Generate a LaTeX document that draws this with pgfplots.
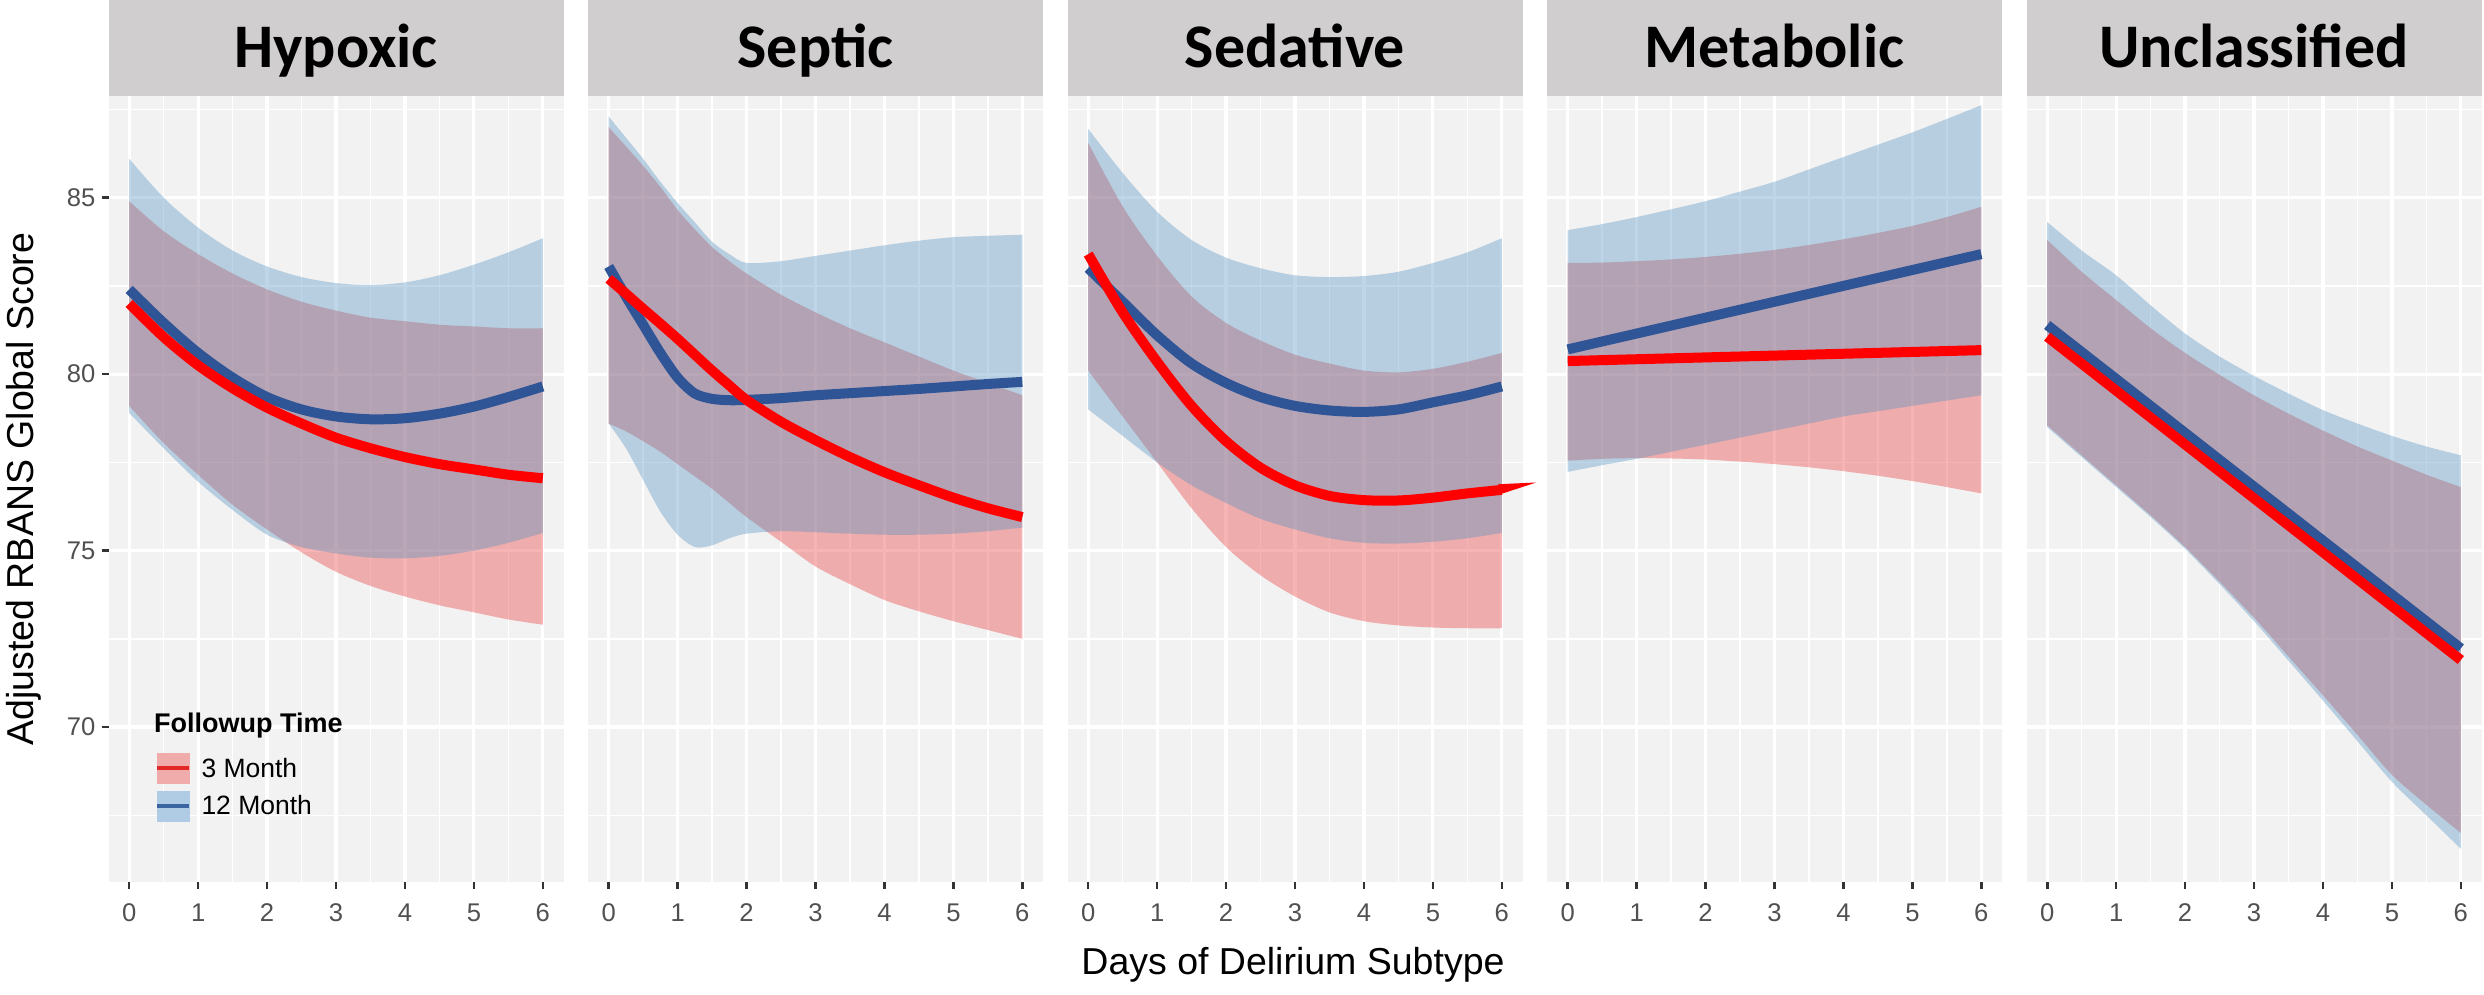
\documentclass[border=0pt]{standalone}
\usepackage{fontspec}
\setmainfont{Liberation Sans}
\newfontfamily\stripfamily{Carlito}
\usepackage{pgfplots}
\usepackage{pgfplotstable}
\usepgfplotslibrary{fillbetween}
\pgfplotsset{compat=1.18}

\definecolor{panelbg}{RGB}{242,242,242}
\definecolor{stripbg}{RGB}{208,206,207}
\definecolor{ribred}{RGB}{233,42,42}
\definecolor{ribblue}{RGB}{80,145,193}
\definecolor{linered}{RGB}{255,0,0}
\definecolor{lineblue}{RGB}{47,85,151}
\definecolor{tickcol}{RGB}{51,51,51}
\definecolor{ticklab}{RGB}{80,80,80}
\definecolor{keypink}{RGB}{240,171,171}
\definecolor{keyblue}{RGB}{176,204,228}
\definecolor{keyred}{RGB}{228,40,40}
\definecolor{keyline}{RGB}{60,100,160}

\newcommand\tickfont{\fontsize{25.6}{30}\selectfont}
\newcommand\labfont{\fontsize{37.5}{45}\selectfont}
\newcommand\stripfont{\stripfamily\bfseries\fontsize{62}{70}\selectfont}
\newcommand\legtitlefont{\bfseries\fontsize{27}{32}\selectfont}
\newcommand\legfont{\fontsize{26.5}{31}\selectfont}

% Hypoxic
\pgfplotstableread{
x   rm    bm    ru    bu    rl    bl
0   82.00 82.40 84.90 86.10 79.10 78.90
0.5 81.05 81.45 84.05 85.00 78.05 77.90
1   80.25 80.60 83.40 84.15 77.15 76.95
1.5 79.60 79.90 82.85 83.50 76.30 76.15
2   79.05 79.35 82.40 83.05 75.60 75.45
2.5 78.60 79.00 82.05 82.75 74.95 75.10
3   78.20 78.80 81.80 82.58 74.40 74.92
3.5 77.90 78.72 81.60 82.52 74.00 74.80
4   77.65 78.75 81.50 82.60 73.70 74.78
4.5 77.45 78.88 81.40 82.80 73.45 74.85
5   77.30 79.08 81.35 83.10 73.25 75.00
5.5 77.15 79.35 81.30 83.45 73.05 75.22
6   77.05 79.65 81.30 83.85 72.90 75.50
}\tabhyp

% Septic
\pgfplotstableread{
x    rm    bm    ru    bu    rl    bl
0    82.70 83.05 87.00 87.30 78.60 78.60
0.25 82.28 82.20 86.45 86.70 78.38 77.90
0.5  81.85 81.40 85.90 86.10 78.10 77.00
0.75 81.43 80.60 85.30 85.45 77.80 76.10
1    81.00 79.90 84.65 84.85 77.45 75.45
1.25 80.55 79.45 84.10 84.30 77.10 75.10
1.5  80.10 79.30 83.60 83.75 76.75 75.15
1.75 79.68 79.26 83.20 83.40 76.35 75.35
2    79.27 79.27 82.85 83.15 75.95 75.48
2.5  78.65 79.32 82.25 83.20 75.25 75.55
3    78.13 79.40 81.75 83.35 74.55 75.52
3.5  77.65 79.46 81.30 83.50 74.05 75.48
4    77.22 79.52 80.90 83.65 73.60 75.45
4.5  76.85 79.58 80.50 83.78 73.28 75.45
5    76.50 79.65 80.10 83.88 73.00 75.48
5.5  76.20 79.72 79.75 83.92 72.75 75.55
6    75.95 79.78 79.40 83.95 72.50 75.65
}\tabsep

% Sedative
\pgfplotstableread{
x   rm    bm    ru    bu    rl    bl
0   83.40 83.00 86.55 86.95 80.10 79.00
0.5 81.75 82.05 84.75 85.70 78.80 78.25
1   80.35 81.10 83.35 84.60 77.50 77.50
1.5 79.10 80.30 82.20 83.80 76.20 76.85
2   78.10 79.75 81.45 83.30 75.10 76.35
2.5 77.35 79.35 80.95 83.00 74.30 75.90
3   76.85 79.10 80.55 82.80 73.70 75.60
3.5 76.55 78.97 80.30 82.75 73.25 75.35
4   76.43 78.93 80.10 82.78 73.00 75.22
4.5 76.42 79.00 80.05 82.90 72.88 75.20
5   76.50 79.20 80.15 83.15 72.82 75.25
5.5 76.62 79.40 80.35 83.45 72.80 75.35
6   76.72 79.65 80.60 83.85 72.80 75.50
}\tabsed

% Metabolic (bands)
\pgfplotstableread{
x   ru    bu    rl    bl
0   83.15 84.08 77.55 77.23
0.5 83.16 84.25 77.60 77.42
1   83.20 84.45 77.62 77.60
1.5 83.25 84.67 77.61 77.80
2   83.32 84.90 77.58 78.00
2.5 83.41 85.17 77.52 78.20
3   83.52 85.45 77.45 78.40
3.5 83.66 85.80 77.36 78.60
4   83.82 86.15 77.25 78.80
4.5 84.00 86.50 77.12 78.95
5   84.20 86.85 76.97 79.10
5.5 84.45 87.23 76.80 79.25
6   84.74 87.62 76.62 79.40
}\tabmet

% Unclassified (bands)
\pgfplotstableread{
x   ru    bu    rl    bl
0   83.80 84.31 78.55 78.50
0.5 82.90 83.50 77.70 77.65
1   82.10 82.80 76.85 76.80
1.5 81.30 81.95 76.00 75.95
2   80.60 81.15 75.10 75.05
2.5 79.98 80.50 74.12 74.05
3   79.40 79.95 73.10 73.00
3.5 78.88 79.45 72.00 71.88
4   78.40 78.98 70.90 70.75
4.5 77.95 78.60 69.78 69.60
5   77.55 78.25 68.65 68.45
5.5 77.15 77.95 67.80 67.50
6   76.80 77.70 67.00 66.55
}\tabunc

\pgfplotsset{
  panel/.style={
    scale only axis, width=455pt, height=786pt,
    anchor=north west,
    xmin=-0.3, xmax=6.3, ymin=65.61, ymax=87.88,
    xtick={0,1,2,3,4,5,6},
    minor xtick={0.5,1.5,2.5,3.5,4.5,5.5},
    ytick={70,75,80,85},
    minor ytick={67.5,72.5,77.5,82.5,87.5},
    grid=both,
    major grid style={white, line width=3.2pt},
    minor grid style={white, line width=1.6pt},
    axis background/.style={fill=panelbg},
    axis line style={draw=none},
    tick align=outside,
    major tick length=7pt,
    minor tick length=0pt,
    every tick/.style={color=tickcol, line width=2.6pt},
    minor tick style={draw=none},
    xtick pos=bottom, ytick pos=left,
    tick label style={font=\tickfont, text=ticklab},
    xticklabel style={anchor=base, inner sep=0pt, yshift=-32pt},
    /pgf/number format/assume math mode=true,
    clip=false,
  },
  noy/.style={yticklabels={}, ytick style={draw=none}},
}

\newcommand\bands[2]{%
  \addplot[draw=none, smooth, name path=#2ru, forget plot] table[x=x,y=ru]{#1};
  \addplot[draw=none, smooth, name path=#2rl, forget plot] table[x=x,y=rl]{#1};
  \addplot[fill=ribred, fill opacity=0.35, draw=none, forget plot] fill between[of=#2ru and #2rl];
  \addplot[draw=none, smooth, name path=#2bu, forget plot] table[x=x,y=bu]{#1};
  \addplot[draw=none, smooth, name path=#2bl, forget plot] table[x=x,y=bl]{#1};
  \addplot[fill=ribblue, fill opacity=0.37, draw=none, forget plot] fill between[of=#2bu and #2bl];
}
\newcommand\strip[1]{%
  \fill[stripbg] (rel axis cs:0,1) rectangle ([yshift=96pt]rel axis cs:1,1);
  \node[font=\stripfont, anchor=base, inner sep=0pt] at ([yshift=28pt]rel axis cs:0.5,1) {#1};
}

\begin{document}
\begin{tikzpicture}

% Hypoxic
\begin{axis}[panel, at={(108.5pt,-96pt)},
  ylabel={Adjusted RBANS Global Score},
  ylabel style={font=\labfont, at={(axis description cs:-0.1857,0.5)}, anchor=center},
  yticklabel style={anchor=east, inner sep=0pt, xshift=-6pt},
  legend style={at={(axis description cs:0.1022,0.1641)}, anchor=north west,
    draw=none, fill=none, inner sep=0pt, outer sep=0pt, row sep=7.5pt,
    font=\legfont, nodes={inner sep=0pt},
    /tikz/every odd column/.append style={column sep=11pt}},
  legend cell align=left]
\addlegendimage{legend image code/.code={\fill[keypink] (0pt,-15pt) rectangle (32pt,15pt); \draw[keyred, line width=3.5pt] (0pt,0pt) -- (32pt,0pt);}}
\addlegendentry{3 Month}
\addlegendimage{legend image code/.code={\fill[keyblue] (0pt,-15pt) rectangle (32pt,15pt); \draw[keyline, line width=3.5pt] (0pt,0pt) -- (32pt,0pt);}}
\addlegendentry{12 Month}
\bands{\tabhyp}{h}
\addplot[lineblue, line width=10pt, smooth, forget plot] table[x=x,y=bm]{\tabhyp};
\addplot[linered, line width=10pt, smooth, forget plot] table[x=x,y=rm]{\tabhyp};
\strip{Hypoxic}
\node[font=\legtitlefont, anchor=base west, inner sep=0pt] at (axis description cs:0.1,0.1896) {Followup Time};
\end{axis}

% Septic
\begin{axis}[panel, noy, at={(588pt,-96pt)}]
\bands{\tabsep}{s}
\addplot[lineblue, line width=10pt, smooth, forget plot] table[x=x,y=bm]{\tabsep};
\addplot[linered, line width=10pt, smooth, forget plot] table[x=x,y=rm]{\tabsep};
\strip{Septic}
\end{axis}

% Sedative
\begin{axis}[panel, noy, at={(1067.5pt,-96pt)},
  xlabel={Days of Delirium Subtype},
  xlabel style={font=\labfont, at={(axis description cs:0.4956,-0.1183)}, anchor=base}]
\bands{\tabsed}{d}
\addplot[lineblue, line width=10pt, smooth, forget plot] table[x=x,y=bm]{\tabsed};
\addplot[linered, line width=10pt, smooth, forget plot] table[x=x,y=rm]{\tabsed};
\addplot[fill=linered, draw=none, forget plot] coordinates {(5.95,76.58) (6.5,76.93) (5.95,76.88)} -- cycle;
\strip{Sedative}
\end{axis}

% Metabolic
\begin{axis}[panel, noy, at={(1547pt,-96pt)}]
\bands{\tabmet}{m}
\addplot[lineblue, line width=10pt, forget plot] coordinates {(0,80.70) (6,83.40)};
\addplot[linered, line width=10pt, forget plot] coordinates {(0,80.37) (6,80.68)};
\strip{Metabolic}
\end{axis}

% Unclassified
\begin{axis}[panel, noy, at={(2026.5pt,-96pt)}]
\bands{\tabunc}{u}
\addplot[lineblue, line width=10pt, forget plot] coordinates {(0,81.39) (6,72.23)};
\addplot[linered, line width=10pt, forget plot] coordinates {(0,81.06) (6,71.90)};
\strip{Unclassified}
\end{axis}

\path (0pt,0pt) rectangle (2484pt,-995pt);
\end{tikzpicture}
\end{document}
